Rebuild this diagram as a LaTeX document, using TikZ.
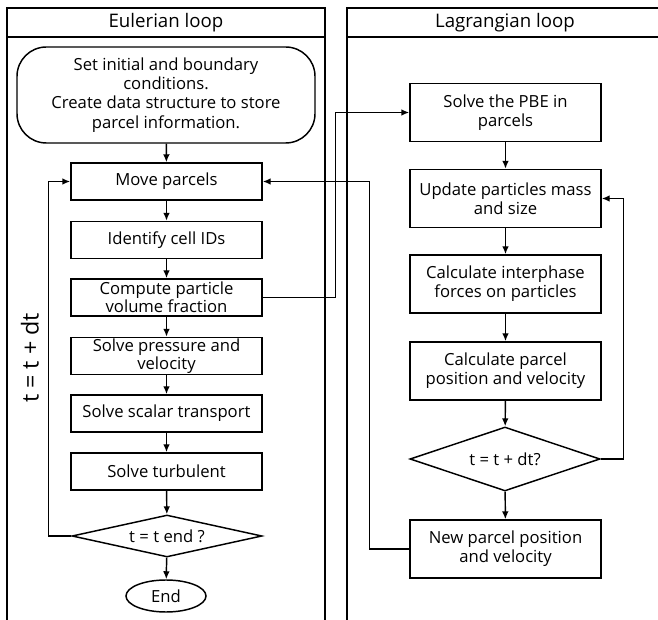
\documentclass[tikz,border=0pt]{standalone}
\usepackage{fontspec}
\setmainfont{Open Sans}
\usetikzlibrary{shapes.geometric,arrows.meta}

\begin{document}
\begin{tikzpicture}[x=0.75pt,y=-0.75pt,line width=1.1pt,>={Latex[length=6pt,width=5pt]}]
\tikzstyle{every node} = [font=\fontsize{12.5}{14.5}\selectfont, align=center]
\tikzstyle{stepbox} = [draw, rectangle, minimum width=143.25pt, minimum height=27.75pt, inner xsep=2pt, inner ysep=0pt]
\tikzstyle{lagbox} = [stepbox, minimum height=43.5pt]
\tikzstyle{check} = [draw, diamond, inner sep=0pt, minimum width=142.5pt]
\tikzstyle{title} = [font=\fontsize{14}{16}\selectfont]

\useasboundingbox (0,0) rectangle (658,620);

% the two loop panels
\draw (7,620) -- (7,8) -- (325,8) -- (325,620);
\draw (7,37) -- (325,37);
\node [title] (eul) at (166,22.5) {Eulerian loop};
\draw (658,8) -- (347,8) -- (347,620);
\draw (347,37) -- (658,37);
\node [title] (lag) at (505,22.5) {Lagrangian loop};

% Eulerian side
\node [draw, rounded corners=22pt, minimum width=223.5pt, minimum height=72pt, inner sep=0pt] (init) at (166,95)
  {Set initial and boundary\\conditions.\\Create data structure to store\\parcel information.};
\node [stepbox] (move) at (166.5,181.5) {Move parcels};
\node [stepbox] (cell) at (166.5,240) {Identify cell IDs};
\node [stepbox, font=\fontsize{12.5}{13.5}\selectfont] (frac) at (166.5,297.5) {Compute particle\\volume fraction};
\node [stepbox, font=\fontsize{12.5}{13.5}\selectfont] (press) at (166.5,356) {Solve pressure and\\velocity};
\node [stepbox] (scal) at (166.5,413.5) {Solve scalar transport};
\node [stepbox] (turb) at (166.5,471.5) {Solve turbulent};
\node [check, shape aspect=4.5, minimum height=31.5pt] (tend) at (167,536) {t = t end ?};
\node [draw, ellipse, minimum width=60pt, minimum height=24pt, inner sep=0pt] (stop) at (166,596) {End};
\node [font=\fontsize{17.5}{20}\selectfont, rotate=90] (dt) at (30,358) {t = t + dt};

\draw [->] (init) to (move);
\draw [->] (move) to (cell);
\draw [->] (cell) to (frac);
\draw [->] (frac) to (press);
\draw [->] (press) to (scal);
\draw [->] (scal) to (turb);
\draw [->] (turb) to (tend);
\draw [->] (tend) to (stop);
\draw [->] (tend.west) -- ++(-23,0) |- (move.west);

% Lagrangian side
\node [lagbox] (pbe) at (505.5,112.5) {Solve the PBE in\\parcels};
\node [lagbox] (mass) at (505.5,198.5) {Update particles mass\\and size};
\node [lagbox] (force) at (505.5,284) {Calculate interphase\\forces on particles};
\node [lagbox] (pos) at (505.5,371) {Calculate parcel\\position and velocity};
\node [check, shape aspect=3, minimum height=48pt] (tdt) at (505,459) {t = t + dt?};
\node [lagbox] (new) at (505.5,549) {New parcel position\\and velocity};

\draw [->] (pbe) to (mass);
\draw [->] (mass) to (force);
\draw [->] (force) to (pos);
\draw [->] (pos) to (tdt);
\draw [->] (tdt) to (new);
\draw [->] (tdt.east) -- ++(23,0) |- (mass.east);

% coupling between the loops
\draw [->] (frac.east) -- ++(73,0) |- (pbe.west);
\draw [->] (new.west) -- ++(-40,0) |- (move.east);
\end{tikzpicture}
\end{document}
